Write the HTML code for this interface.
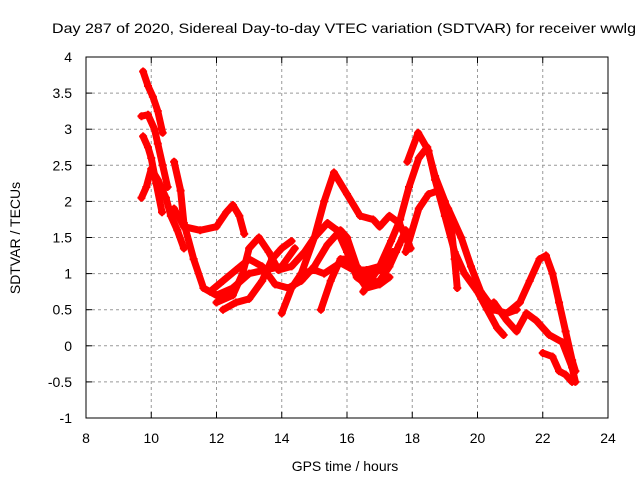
<!DOCTYPE html>
<html><head><meta charset="utf-8"><style>
body{margin:0;background:#fff}
svg text{font-family:"Liberation Sans",sans-serif;font-size:14px;fill:#000}
</style></head><body>
<svg id="chart" width="640" height="480" xmlns="http://www.w3.org/2000/svg">
<rect width="640" height="480" fill="#fff"/>
<text x="344" y="33" text-anchor="middle" textLength="584" lengthAdjust="spacingAndGlyphs">Day 287 of 2020, Sidereal Day-to-day VTEC variation (SDTVAR) for receiver wwlg</text>
<text x="345" y="471" text-anchor="middle">GPS time / hours</text>
<text x="20" y="238" text-anchor="middle" transform="rotate(-90 20 238)">SDTVAR / TECUs</text>
<g id="grid"></g><g id="marks"></g>
<rect x="86" y="57" width="522" height="361" fill="none" stroke="#000" stroke-width="1"/>
</svg>
<script>
const xTicks=[8,10,12,14,16,18,20,22,24];
const yTicks=[-1,-0.5,0,0.5,1,1.5,2,2.5,3,3.5,4];
const trackA=[[9.75,3.8],[9.9,3.6],[10.05,3.45],[10.2,3.25],[10.35,2.95]];
const trackB=[[9.7,3.18],[9.9,3.2],[10.1,3.0],[10.2,2.8],[10.35,2.5],[10.5,2.2]];
const trackC=[[9.75,2.9],[9.9,2.75],[10.0,2.6],[10.15,2.25],[10.33,1.85]];
const trackD=[[9.7,2.05],[9.85,2.2],[10.0,2.45],[10.2,2.3],[10.45,2.05],[10.6,1.8],[10.8,1.6],[11.0,1.35]];
const trackE=[[10.7,2.55],[10.9,2.15],[11.0,1.7],[11.3,1.2],[11.6,0.8],[12.0,0.7],[12.5,0.8],[13.0,1.0],[13.5,1.05],[14.0,1.1],[14.4,1.35]];
const trackF=[[10.7,1.9],[11.0,1.65],[11.5,1.6],[12.0,1.65],[12.3,1.85],[12.5,1.95],[12.7,1.8],[12.85,1.55]];
const trackG=[[14.6,1.0],[15.0,1.5],[15.3,2.0],[15.6,2.4],[16.0,2.1],[16.4,1.8],[16.8,1.75],[17.0,1.65],[17.3,1.8],[17.6,1.7],[17.95,1.35]];
const trackH=[[17.85,2.55],[18.18,2.95],[18.5,2.7],[18.7,2.3],[19.0,1.8],[19.3,1.3],[19.6,1.0],[20.0,0.75],[20.3,0.5],[20.6,0.25],[20.8,0.15]];
const trackH2=[[16.5,0.75],[17.0,1.1],[17.35,1.45],[17.63,1.75],[17.9,2.2],[18.2,2.6],[18.46,2.75],[18.7,2.35],[19.0,2.0],[19.17,1.74],[19.3,1.2],[19.38,0.8]];
const trackI=[[17.8,1.3],[18.2,1.9],[18.5,2.1],[18.8,2.15],[19.1,1.9],[19.5,1.5],[19.8,1.1],[20.1,0.75],[20.5,0.5],[20.9,0.45],[21.2,0.5]];
const trackJ=[[20.9,0.45],[21.3,0.6],[21.6,0.9],[21.9,1.2],[22.1,1.25],[22.3,1.0],[22.5,0.6],[22.7,0.2],[22.9,-0.2],[23.0,-0.35]];
const trackK=[[20.5,0.6],[20.9,0.35],[21.2,0.2],[21.5,0.45],[21.8,0.35],[22.2,0.15],[22.6,0.05],[22.9,-0.3],[23.0,-0.5]];
const trackL=[[22.0,-0.1],[22.3,-0.15],[22.5,-0.35],[22.7,-0.4],[22.9,-0.5]];
const trackM=[[11.8,0.75],[12.2,0.9],[12.6,1.05],[13.0,1.2],[13.4,1.1],[13.8,0.85],[14.2,0.8],[14.6,0.9],[15.0,1.1],[15.4,1.4],[15.8,1.6],[16.0,1.5],[16.3,1.1],[16.6,0.95],[17.0,1.05],[17.5,1.3],[17.8,1.6]];
const trackN=[[12.0,0.6],[12.5,0.7],[12.8,1.0],[13.0,1.35],[13.3,1.5],[13.6,1.3],[13.9,1.05],[14.3,1.1],[14.7,1.3],[15.0,1.5],[15.4,1.7],[15.7,1.6],[16.0,1.3],[16.3,0.95],[16.6,0.85],[17.0,0.9],[17.3,1.1],[17.6,1.4]];
const trackO=[[12.2,0.5],[12.6,0.6],[13.0,0.65],[13.4,0.9],[13.7,1.2],[14.0,1.35],[14.3,1.45]];
const trackP=[[14.0,0.45],[14.3,0.8],[14.6,1.0],[15.0,1.05],[15.3,1.0],[15.8,1.15],[16.2,1.05],[16.6,1.05],[17.0,1.1],[17.4,1.3]];
const trackQ=[[15.2,0.5],[15.5,0.9],[15.8,1.2],[16.0,1.2],[16.3,1.0],[16.6,0.8],[17.0,0.85],[17.3,0.95]];
const tracks=[trackA,trackB,trackC,trackD,trackE,trackF,trackG,trackH,trackH2,trackI,trackJ,trackK,trackL,trackM,trackN,trackO,trackP,trackQ];
const X0=86,X1=608,Y0=418,Y1=57;
const xs=v=>X0+(v-8)/16*(X1-X0);
const ys=v=>Y0-(v+1)/5*(Y0-Y1);
const NS="http://www.w3.org/2000/svg";
const grid=document.getElementById('grid'),marks=document.getElementById('marks');
function mk(t,a,p){const e=document.createElementNS(NS,t);for(const k in a)e.setAttribute(k,a[k]);p.appendChild(e);return e;}
xTicks.forEach(v=>{const x=xs(v);
 if(v>8&&v<24){const g=mk('line',{x1:x,x2:x,y1:Y1,y2:Y0,stroke:'#999','stroke-dasharray':'3,3'},grid);
 
 }
 mk('line',{x1:x,x2:x,y1:Y0,y2:Y0-6,stroke:'#000'},grid);mk('line',{x1:x,x2:x,y1:Y1,y2:Y1+6,stroke:'#000'},grid);
 const t=mk('text',{x:x,y:443,'text-anchor':'middle'},grid);t.textContent=v;
 
 });
yTicks.forEach(v=>{const y=ys(v);
 if(v>-1&&v<4){const g=mk('line',{x1:X0,x2:X1,y1:y,y2:y,stroke:'#999','stroke-dasharray':'3,3'},grid);
 
 }
 mk('line',{x1:X0,x2:X0+6,y1:y,y2:y,stroke:'#000'},grid);mk('line',{x1:X1,x2:X1-6,y1:y,y2:y,stroke:'#000'},grid);
 const t=mk('text',{x:72,y:y+5,'text-anchor':'end'},grid);t.textContent=v;
 
 });
tracks.forEach((tr,i)=>{
 const pl=mk('polyline',{points:tr.map(p=>xs(p[0])+','+ys(p[1])).join(' '),fill:'none',stroke:'#f00','stroke-width':7,'stroke-linejoin':'round','stroke-linecap':'round'},marks);
 
 
 tr.forEach(p=>{const x=xs(p[0]),y=ys(p[1]);
  const m=mk('path',{d:`M${x-4},${y}H${x+4}M${x},${y-4}V${y+4}`,stroke:'#f00','stroke-width':2},marks);
  
  });
});
</script>
</body></html>
